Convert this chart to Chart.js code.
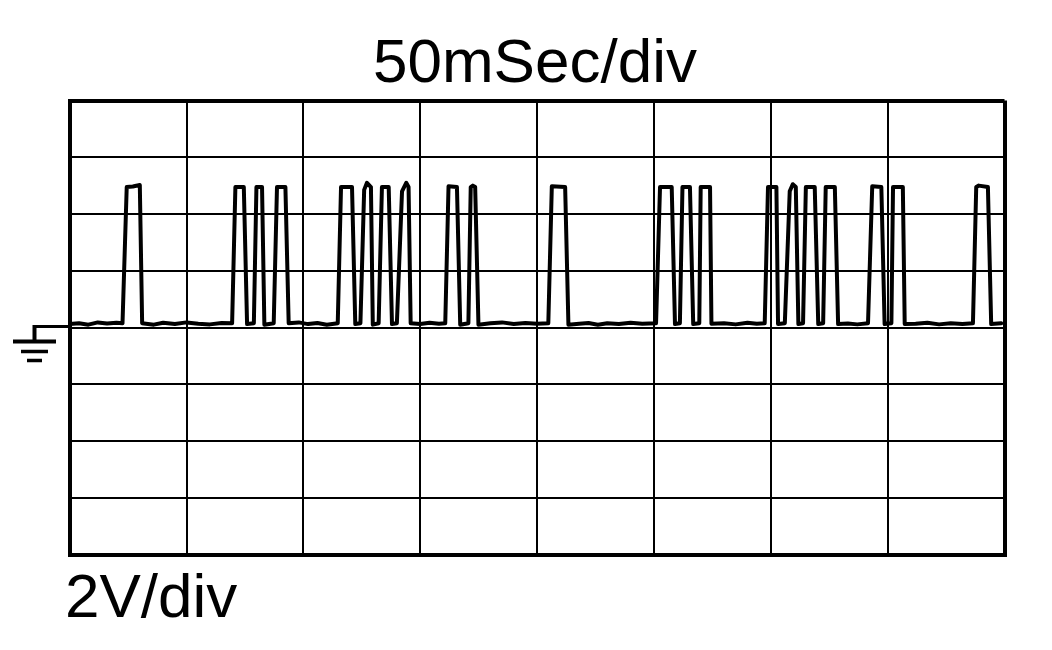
<!DOCTYPE html>
<html>
<head>
<meta charset="utf-8">
<script src="https://cdn.jsdelivr.net/npm/chart.js@4.4.1/dist/chart.umd.min.js"></script>
<style>
  html, body { margin: 0; padding: 0; background: #fff; }
  #scope { display: block; }
</style>
</head>
<body>
<canvas id="scope" width="1052" height="650"></canvas>
<script>
// time axis: 50 ms per division, 8 divisions
const timeTicks = [0, 50, 100, 150, 200, 250, 300, 350, 400];
// voltage axis: 2 V per division, 8 divisions, ground in the middle
const voltTicks = [-8, -6, -4, -2, 0, 2, 4, 6, 8];

const timeLabel = '50mSec/div';
const voltLabel = '2V/div';

// trace samples (ms)
const traceTimes = [
    0, 4, 8, 12, 16, 20, 22.6, 24.4, 27, 30.0, 31.0,
    36, 40, 45, 50, 55, 60, 65,
    69.5, 70.9, 74.5, 75.9, 78.8, 79.9, 82.3, 83.3, 87.3, 88.7, 92.3, 93.7,
    98, 102, 106, 110,
    114.7, 116.1, 120.8, 122.2, 124.4, 126.0, 127.2, 128.9, 129.7,
    132.2, 133.6, 136.5, 137.9, 140.0, 142.2, 144.0, 145.0, 145.9,
    150, 154, 158,
    160.7, 162.1, 165.7, 167.1, 170.6, 171.6, 172.5, 173.5, 174.9,
    180, 185, 190, 195, 200,
    204.8, 206.3, 212.0, 213.4,
    218, 222, 226, 230, 235, 240, 245,
    250.9, 252.6, 257.6, 259.0, 261.1, 262.2, 265.4, 266.8, 269.4, 270.0, 274.0, 274.6,
    280, 285, 290, 294,
    297.4, 298.8, 302.4, 303.1, 306.0, 308.1, 309.4, 310.7, 311.8,
    313.8, 315.0, 318.8, 320.3, 322.4, 323.5, 327.4, 328.8,
    333, 337,
    341.6, 343.4, 347.3, 348.7, 351.6, 352.3, 356.5, 357.3,
    362, 367, 372, 377, 382,
    386.5, 387.9, 389, 392.9, 394.3, 398.6
];
// trace samples (V)
const traceVolts = [
    0.12, 0.15, 0.10, 0.18, 0.14, 0.17, 0.15, 4.95, 4.97, 5.02, 0.15,
    0.10, 0.17, 0.12, 0.18, 0.13, 0.11, 0.16,
    0.15, 4.95, 4.95, 0.12, 0.15, 4.95, 4.95, 0.10, 0.15, 4.95, 4.95, 0.15,
    0.18, 0.12, 0.16, 0.10,
    0.15, 4.95, 4.95, 0.12, 0.15, 4.85, 5.1, 4.95, 0.10,
    0.15, 4.95, 4.95, 0.12, 0.15, 4.8, 5.1, 4.95, 0.15,
    0.12, 0.17, 0.13,
    0.15, 4.98, 4.95, 0.10, 0.15, 4.95, 5.0, 4.95, 0.10,
    0.15, 0.18, 0.12, 0.16, 0.13,
    0.15, 4.98, 4.95, 0.10,
    0.13, 0.16, 0.10, 0.15, 0.12, 0.17, 0.13,
    0.15, 4.95, 4.95, 0.12, 0.15, 4.95, 4.95, 0.12, 0.15, 4.95, 4.95, 0.13,
    0.15, 0.11, 0.17, 0.13,
    0.15, 4.95, 4.95, 0.12, 0.15, 4.8, 5.05, 4.95, 0.12,
    0.15, 4.95, 4.95, 0.12, 0.15, 4.95, 4.95, 0.12,
    0.14, 0.11,
    0.15, 4.98, 4.95, 0.12, 0.15, 4.95, 4.95, 0.12,
    0.13, 0.17, 0.11, 0.15, 0.12,
    0.15, 4.95, 5.0, 4.95, 0.12, 0.15
];

const FONT = '"Liberation Sans", Arial, Helvetica, sans-serif';

// frame thicker than inner graticule
function graticuleWidth(ctx) {
    const n = ctx.scale.ticks.length;
    return (ctx.index === 0 || ctx.index === n - 1) ? 4 : 2;
}

function drawLabel(ctx, text, x, y) {
    ctx.save();
    ctx.font = '62px ' + FONT;
    ctx.fillStyle = '#000';
    ctx.textAlign = 'left';
    ctx.textBaseline = 'alphabetic';
    ctx.fillText(text, x, y);
    ctx.restore();
}

const scopeDecor = {
    id: 'scopeDecor',
    afterDraw(chart) {
        const ctx = chart.ctx;
        const area = chart.chartArea;
        const gy = chart.scales.y.getPixelForValue(0);

        // ground marker
        ctx.save();
        ctx.strokeStyle = '#000';
        ctx.lineCap = 'butt';
        ctx.lineWidth = 3;
        ctx.beginPath();
        ctx.moveTo(33, gy - 1);
        ctx.lineTo(area.left, gy - 1);
        ctx.stroke();
        ctx.lineWidth = 4;
        ctx.beginPath();
        ctx.moveTo(34.5, gy - 2.5);
        ctx.lineTo(34.5, gy + 14);
        ctx.stroke();
        ctx.beginPath();
        ctx.moveTo(13, gy + 14);
        ctx.lineTo(56, gy + 14);
        ctx.stroke();
        ctx.lineWidth = 3.5;
        ctx.beginPath();
        ctx.moveTo(21, gy + 24);
        ctx.lineTo(48, gy + 24);
        ctx.stroke();
        ctx.beginPath();
        ctx.moveTo(27, gy + 33);
        ctx.lineTo(42, gy + 33);
        ctx.stroke();
        ctx.restore();

        drawLabel(ctx, timeLabel, 373, 82);
        drawLabel(ctx, voltLabel, 65, 617);
    }
};

new Chart(document.getElementById('scope'), {
    type: 'line',
    data: {
        datasets: [{
            data: traceTimes.map((t, i) => ({ x: t, y: traceVolts[i] })),
            borderColor: '#000',
            borderWidth: 4,
            borderJoinStyle: 'round',
            borderCapStyle: 'round',
            pointRadius: 0,
            tension: 0,
            fill: false
        }]
    },
    options: {
        responsive: false,
        animation: false,
        layout: {
            padding: { left: 69.7, top: 100.5, right: 47.5, bottom: 95.5 }
        },
        scales: {
            x: {
                type: 'linear',
                min: 0,
                max: 400,
                afterBuildTicks: (s) => { s.ticks = timeTicks.map(v => ({ value: v })); },
                ticks: { display: false },
                grid: { color: '#000', lineWidth: graticuleWidth, drawTicks: false },
                border: { display: true, color: '#000', width: 4 }
            },
            y: {
                min: -8,
                max: 8,
                afterBuildTicks: (s) => { s.ticks = voltTicks.map(v => ({ value: v })); },
                ticks: { display: false },
                grid: { color: '#000', lineWidth: graticuleWidth, drawTicks: false },
                border: { display: true, color: '#000', width: 4 }
            }
        },
        plugins: {
            legend: { display: false },
            tooltip: { enabled: false }
        }
    },
    plugins: [scopeDecor]
});
</script>
</body>
</html>
